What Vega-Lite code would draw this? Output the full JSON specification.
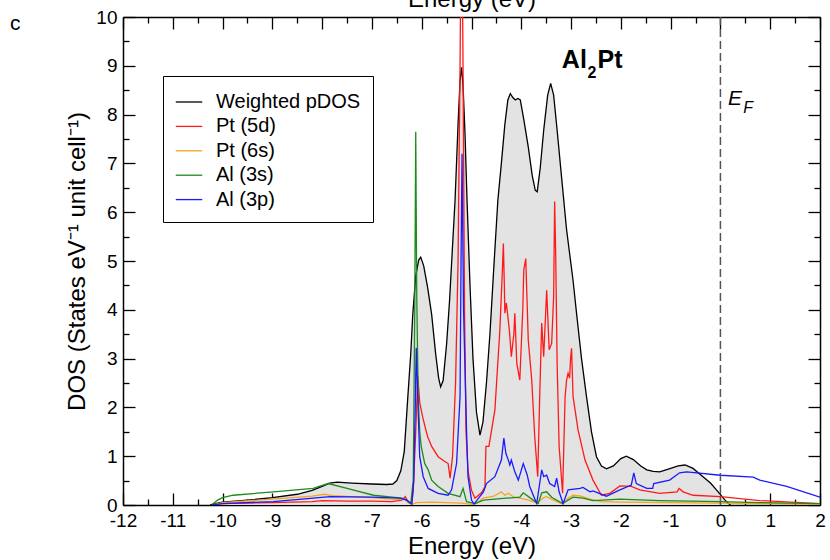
{
  "$schema": "https://vega.github.io/schema/vega-lite/v6.json",
  "width": 697,
  "height": 488,
  "autosize": {"type": "none"},
  "padding": {"left": 123, "top": 17, "right": 10, "bottom": 55},
  "background": "white",
  "config": {"font": "Liberation Sans", "view": {"stroke": null}},
  "datasets": {
    "dos": [
      {"s": "Weighted pDOS", "e": -10.25, "d": 0},
      {"s": "Weighted pDOS", "e": -10.1, "d": 0.04},
      {"s": "Weighted pDOS", "e": -10, "d": 0.06},
      {"s": "Weighted pDOS", "e": -9.5, "d": 0.1},
      {"s": "Weighted pDOS", "e": -9, "d": 0.15},
      {"s": "Weighted pDOS", "e": -8.5, "d": 0.22},
      {"s": "Weighted pDOS", "e": -8.2, "d": 0.3},
      {"s": "Weighted pDOS", "e": -8, "d": 0.38},
      {"s": "Weighted pDOS", "e": -7.85, "d": 0.45},
      {"s": "Weighted pDOS", "e": -7.7, "d": 0.47},
      {"s": "Weighted pDOS", "e": -7.4, "d": 0.45},
      {"s": "Weighted pDOS", "e": -7, "d": 0.43},
      {"s": "Weighted pDOS", "e": -6.7, "d": 0.42},
      {"s": "Weighted pDOS", "e": -6.58, "d": 0.43},
      {"s": "Weighted pDOS", "e": -6.5, "d": 0.5},
      {"s": "Weighted pDOS", "e": -6.42, "d": 0.7},
      {"s": "Weighted pDOS", "e": -6.35, "d": 1.1},
      {"s": "Weighted pDOS", "e": -6.28, "d": 2.2},
      {"s": "Weighted pDOS", "e": -6.22, "d": 3.1},
      {"s": "Weighted pDOS", "e": -6.18, "d": 3.9},
      {"s": "Weighted pDOS", "e": -6.12, "d": 4.7},
      {"s": "Weighted pDOS", "e": -6.06, "d": 5.02},
      {"s": "Weighted pDOS", "e": -6.02, "d": 5.08},
      {"s": "Weighted pDOS", "e": -5.96, "d": 4.9},
      {"s": "Weighted pDOS", "e": -5.88, "d": 4.45},
      {"s": "Weighted pDOS", "e": -5.8, "d": 3.9},
      {"s": "Weighted pDOS", "e": -5.72, "d": 3.1},
      {"s": "Weighted pDOS", "e": -5.66, "d": 2.6},
      {"s": "Weighted pDOS", "e": -5.62, "d": 2.42},
      {"s": "Weighted pDOS", "e": -5.57, "d": 2.55},
      {"s": "Weighted pDOS", "e": -5.5, "d": 3.3},
      {"s": "Weighted pDOS", "e": -5.44, "d": 4.2},
      {"s": "Weighted pDOS", "e": -5.4, "d": 4.95},
      {"s": "Weighted pDOS", "e": -5.33, "d": 6.25},
      {"s": "Weighted pDOS", "e": -5.27, "d": 7.8},
      {"s": "Weighted pDOS", "e": -5.23, "d": 8.7},
      {"s": "Weighted pDOS", "e": -5.2, "d": 8.97},
      {"s": "Weighted pDOS", "e": -5.17, "d": 8.6},
      {"s": "Weighted pDOS", "e": -5.13, "d": 7.6},
      {"s": "Weighted pDOS", "e": -5.09, "d": 6.25},
      {"s": "Weighted pDOS", "e": -5.03, "d": 4.5},
      {"s": "Weighted pDOS", "e": -4.97, "d": 3.0},
      {"s": "Weighted pDOS", "e": -4.9, "d": 1.9},
      {"s": "Weighted pDOS", "e": -4.83, "d": 1.43},
      {"s": "Weighted pDOS", "e": -4.77, "d": 1.7},
      {"s": "Weighted pDOS", "e": -4.7, "d": 2.5},
      {"s": "Weighted pDOS", "e": -4.63, "d": 3.5},
      {"s": "Weighted pDOS", "e": -4.55, "d": 4.9},
      {"s": "Weighted pDOS", "e": -4.47, "d": 6.25},
      {"s": "Weighted pDOS", "e": -4.4, "d": 7.0},
      {"s": "Weighted pDOS", "e": -4.33, "d": 7.8},
      {"s": "Weighted pDOS", "e": -4.27, "d": 8.3},
      {"s": "Weighted pDOS", "e": -4.22, "d": 8.43},
      {"s": "Weighted pDOS", "e": -4.17, "d": 8.35},
      {"s": "Weighted pDOS", "e": -4.12, "d": 8.3},
      {"s": "Weighted pDOS", "e": -4.07, "d": 8.33},
      {"s": "Weighted pDOS", "e": -4.02, "d": 8.3},
      {"s": "Weighted pDOS", "e": -3.95, "d": 7.9},
      {"s": "Weighted pDOS", "e": -3.86, "d": 7.34},
      {"s": "Weighted pDOS", "e": -3.78, "d": 6.75},
      {"s": "Weighted pDOS", "e": -3.72, "d": 6.45},
      {"s": "Weighted pDOS", "e": -3.68, "d": 6.42},
      {"s": "Weighted pDOS", "e": -3.62, "d": 6.9},
      {"s": "Weighted pDOS", "e": -3.55, "d": 7.68},
      {"s": "Weighted pDOS", "e": -3.47, "d": 8.4},
      {"s": "Weighted pDOS", "e": -3.41, "d": 8.64},
      {"s": "Weighted pDOS", "e": -3.35, "d": 8.4},
      {"s": "Weighted pDOS", "e": -3.28, "d": 7.68},
      {"s": "Weighted pDOS", "e": -3.18, "d": 6.6},
      {"s": "Weighted pDOS", "e": -3.09, "d": 5.64},
      {"s": "Weighted pDOS", "e": -2.96, "d": 4.6},
      {"s": "Weighted pDOS", "e": -2.89, "d": 3.93},
      {"s": "Weighted pDOS", "e": -2.79, "d": 3.0},
      {"s": "Weighted pDOS", "e": -2.69, "d": 2.22},
      {"s": "Weighted pDOS", "e": -2.59, "d": 1.5},
      {"s": "Weighted pDOS", "e": -2.49, "d": 0.99},
      {"s": "Weighted pDOS", "e": -2.39, "d": 0.8},
      {"s": "Weighted pDOS", "e": -2.29, "d": 0.74},
      {"s": "Weighted pDOS", "e": -2.15, "d": 0.8},
      {"s": "Weighted pDOS", "e": -2.0, "d": 0.95},
      {"s": "Weighted pDOS", "e": -1.89, "d": 1.0},
      {"s": "Weighted pDOS", "e": -1.75, "d": 0.93},
      {"s": "Weighted pDOS", "e": -1.6, "d": 0.8},
      {"s": "Weighted pDOS", "e": -1.48, "d": 0.72},
      {"s": "Weighted pDOS", "e": -1.35, "d": 0.69},
      {"s": "Weighted pDOS", "e": -1.22, "d": 0.68},
      {"s": "Weighted pDOS", "e": -1.0, "d": 0.75},
      {"s": "Weighted pDOS", "e": -0.85, "d": 0.8},
      {"s": "Weighted pDOS", "e": -0.71, "d": 0.82},
      {"s": "Weighted pDOS", "e": -0.55, "d": 0.75},
      {"s": "Weighted pDOS", "e": -0.35, "d": 0.58},
      {"s": "Weighted pDOS", "e": -0.2, "d": 0.45},
      {"s": "Weighted pDOS", "e": -0.08, "d": 0.31},
      {"s": "Weighted pDOS", "e": 0.05, "d": 0.15},
      {"s": "Weighted pDOS", "e": 0.12, "d": 0.07},
      {"s": "Weighted pDOS", "e": 0.2, "d": 0},

      {"s": "Pt (5d)", "e": -10.2, "d": 0},
      {"s": "Pt (5d)", "e": -10, "d": 0.03},
      {"s": "Pt (5d)", "e": -9, "d": 0.05},
      {"s": "Pt (5d)", "e": -8.2, "d": 0.07},
      {"s": "Pt (5d)", "e": -8, "d": 0.09},
      {"s": "Pt (5d)", "e": -7.5, "d": 0.08},
      {"s": "Pt (5d)", "e": -7, "d": 0.08},
      {"s": "Pt (5d)", "e": -6.6, "d": 0.07},
      {"s": "Pt (5d)", "e": -6.4, "d": 0.1},
      {"s": "Pt (5d)", "e": -6.33, "d": 0.17},
      {"s": "Pt (5d)", "e": -6.27, "d": 0.05},
      {"s": "Pt (5d)", "e": -6.2, "d": 0.02},
      {"s": "Pt (5d)", "e": -6.17, "d": 0.3},
      {"s": "Pt (5d)", "e": -6.12, "d": 1.5},
      {"s": "Pt (5d)", "e": -6.08, "d": 2.65},
      {"s": "Pt (5d)", "e": -6.04, "d": 2.1},
      {"s": "Pt (5d)", "e": -5.98, "d": 1.8},
      {"s": "Pt (5d)", "e": -5.92, "d": 1.55},
      {"s": "Pt (5d)", "e": -5.88, "d": 1.4},
      {"s": "Pt (5d)", "e": -5.8, "d": 1.2},
      {"s": "Pt (5d)", "e": -5.67, "d": 0.99},
      {"s": "Pt (5d)", "e": -5.55, "d": 0.9},
      {"s": "Pt (5d)", "e": -5.47, "d": 0.85},
      {"s": "Pt (5d)", "e": -5.43, "d": 0.55},
      {"s": "Pt (5d)", "e": -5.38, "d": 1.0},
      {"s": "Pt (5d)", "e": -5.32, "d": 2.5},
      {"s": "Pt (5d)", "e": -5.27, "d": 5},
      {"s": "Pt (5d)", "e": -5.23, "d": 9},
      {"s": "Pt (5d)", "e": -5.2, "d": 13},
      {"s": "Pt (5d)", "e": -5.17, "d": 9},
      {"s": "Pt (5d)", "e": -5.14, "d": 4},
      {"s": "Pt (5d)", "e": -5.11, "d": 1.5},
      {"s": "Pt (5d)", "e": -5.07, "d": 0.7},
      {"s": "Pt (5d)", "e": -5.0, "d": 0.3},
      {"s": "Pt (5d)", "e": -4.93, "d": 0.14},
      {"s": "Pt (5d)", "e": -4.8, "d": 0.25},
      {"s": "Pt (5d)", "e": -4.73, "d": 0.37},
      {"s": "Pt (5d)", "e": -4.71, "d": 1.2},
      {"s": "Pt (5d)", "e": -4.65, "d": 1.2},
      {"s": "Pt (5d)", "e": -4.53, "d": 1.95},
      {"s": "Pt (5d)", "e": -4.43, "d": 3.59},
      {"s": "Pt (5d)", "e": -4.38, "d": 4.8},
      {"s": "Pt (5d)", "e": -4.36, "d": 5.36},
      {"s": "Pt (5d)", "e": -4.34, "d": 4.5},
      {"s": "Pt (5d)", "e": -4.33, "d": 3.93},
      {"s": "Pt (5d)", "e": -4.3, "d": 4.14},
      {"s": "Pt (5d)", "e": -4.24, "d": 3.59},
      {"s": "Pt (5d)", "e": -4.2, "d": 3.04},
      {"s": "Pt (5d)", "e": -4.15, "d": 3.5},
      {"s": "Pt (5d)", "e": -4.13, "d": 3.93},
      {"s": "Pt (5d)", "e": -4.09, "d": 2.9},
      {"s": "Pt (5d)", "e": -4.03, "d": 2.56},
      {"s": "Pt (5d)", "e": -3.97, "d": 4.0},
      {"s": "Pt (5d)", "e": -3.95, "d": 4.82},
      {"s": "Pt (5d)", "e": -3.91, "d": 5.05},
      {"s": "Pt (5d)", "e": -3.86, "d": 3.38},
      {"s": "Pt (5d)", "e": -3.79, "d": 2.56},
      {"s": "Pt (5d)", "e": -3.73, "d": 1.4},
      {"s": "Pt (5d)", "e": -3.67, "d": 0.58},
      {"s": "Pt (5d)", "e": -3.63, "d": 2.22},
      {"s": "Pt (5d)", "e": -3.59, "d": 3.73},
      {"s": "Pt (5d)", "e": -3.55, "d": 3.04},
      {"s": "Pt (5d)", "e": -3.49, "d": 4.4},
      {"s": "Pt (5d)", "e": -3.44, "d": 3.18},
      {"s": "Pt (5d)", "e": -3.39, "d": 3.31},
      {"s": "Pt (5d)", "e": -3.35, "d": 4.27},
      {"s": "Pt (5d)", "e": -3.33, "d": 6.22},
      {"s": "Pt (5d)", "e": -3.31, "d": 5.2},
      {"s": "Pt (5d)", "e": -3.28, "d": 2.9},
      {"s": "Pt (5d)", "e": -3.24, "d": 1.2},
      {"s": "Pt (5d)", "e": -3.17, "d": 0.24},
      {"s": "Pt (5d)", "e": -3.12, "d": 2.22},
      {"s": "Pt (5d)", "e": -3.09, "d": 2.56},
      {"s": "Pt (5d)", "e": -3.06, "d": 2.7},
      {"s": "Pt (5d)", "e": -3.03, "d": 2.6},
      {"s": "Pt (5d)", "e": -3.01, "d": 3.0},
      {"s": "Pt (5d)", "e": -2.99, "d": 3.21},
      {"s": "Pt (5d)", "e": -2.96, "d": 2.22},
      {"s": "Pt (5d)", "e": -2.86, "d": 1.54},
      {"s": "Pt (5d)", "e": -2.72, "d": 0.92},
      {"s": "Pt (5d)", "e": -2.56, "d": 0.51},
      {"s": "Pt (5d)", "e": -2.39, "d": 0.2},
      {"s": "Pt (5d)", "e": -2.22, "d": 0.24},
      {"s": "Pt (5d)", "e": -2.02, "d": 0.39},
      {"s": "Pt (5d)", "e": -1.79, "d": 0.38},
      {"s": "Pt (5d)", "e": -1.62, "d": 0.31},
      {"s": "Pt (5d)", "e": -1.22, "d": 0.24},
      {"s": "Pt (5d)", "e": -0.87, "d": 0.27},
      {"s": "Pt (5d)", "e": -0.83, "d": 0.34},
      {"s": "Pt (5d)", "e": -0.75, "d": 0.27},
      {"s": "Pt (5d)", "e": -0.55, "d": 0.2},
      {"s": "Pt (5d)", "e": 0, "d": 0.17},
      {"s": "Pt (5d)", "e": 0.79, "d": 0.09},
      {"s": "Pt (5d)", "e": 2, "d": 0.03},

      {"s": "Pt (6s)", "e": -10.2, "d": 0},
      {"s": "Pt (6s)", "e": -10, "d": 0.05},
      {"s": "Pt (6s)", "e": -9, "d": 0.12},
      {"s": "Pt (6s)", "e": -8.2, "d": 0.18},
      {"s": "Pt (6s)", "e": -7.95, "d": 0.22},
      {"s": "Pt (6s)", "e": -7.8, "d": 0.19},
      {"s": "Pt (6s)", "e": -7, "d": 0.15},
      {"s": "Pt (6s)", "e": -6.5, "d": 0.11},
      {"s": "Pt (6s)", "e": -6.35, "d": 0.13},
      {"s": "Pt (6s)", "e": -6.28, "d": 0.05},
      {"s": "Pt (6s)", "e": -6.2, "d": 0.01},
      {"s": "Pt (6s)", "e": -6.1, "d": 0.05},
      {"s": "Pt (6s)", "e": -5.8, "d": 0.06},
      {"s": "Pt (6s)", "e": -5.5, "d": 0.05},
      {"s": "Pt (6s)", "e": -5.2, "d": 0.04},
      {"s": "Pt (6s)", "e": -5.0, "d": 0.01},
      {"s": "Pt (6s)", "e": -4.9, "d": 0.03},
      {"s": "Pt (6s)", "e": -4.77, "d": 0.14},
      {"s": "Pt (6s)", "e": -4.55, "d": 0.18},
      {"s": "Pt (6s)", "e": -4.4, "d": 0.27},
      {"s": "Pt (6s)", "e": -4.33, "d": 0.2},
      {"s": "Pt (6s)", "e": -4.26, "d": 0.24},
      {"s": "Pt (6s)", "e": -4.15, "d": 0.16},
      {"s": "Pt (6s)", "e": -4.03, "d": 0.14},
      {"s": "Pt (6s)", "e": -3.85, "d": 0.1},
      {"s": "Pt (6s)", "e": -3.69, "d": 0.04},
      {"s": "Pt (6s)", "e": -3.55, "d": 0.15},
      {"s": "Pt (6s)", "e": -3.49, "d": 0.17},
      {"s": "Pt (6s)", "e": -3.35, "d": 0.1},
      {"s": "Pt (6s)", "e": -3.17, "d": 0.02},
      {"s": "Pt (6s)", "e": -3.05, "d": 0.15},
      {"s": "Pt (6s)", "e": -2.96, "d": 0.2},
      {"s": "Pt (6s)", "e": -2.8, "d": 0.18},
      {"s": "Pt (6s)", "e": -2.62, "d": 0.12},
      {"s": "Pt (6s)", "e": -2.4, "d": 0.07},
      {"s": "Pt (6s)", "e": -2, "d": 0.06},
      {"s": "Pt (6s)", "e": -1, "d": 0.05},
      {"s": "Pt (6s)", "e": 0, "d": 0.04},
      {"s": "Pt (6s)", "e": 1, "d": 0.03},
      {"s": "Pt (6s)", "e": 2, "d": 0.02},

      {"s": "Al (3s)", "e": -10.22, "d": 0},
      {"s": "Al (3s)", "e": -10.1, "d": 0.1},
      {"s": "Al (3s)", "e": -10, "d": 0.15},
      {"s": "Al (3s)", "e": -9.79, "d": 0.2},
      {"s": "Al (3s)", "e": -8.98, "d": 0.27},
      {"s": "Al (3s)", "e": -8.18, "d": 0.34},
      {"s": "Al (3s)", "e": -7.88, "d": 0.44},
      {"s": "Al (3s)", "e": -7.5, "d": 0.34},
      {"s": "Al (3s)", "e": -6.97, "d": 0.2},
      {"s": "Al (3s)", "e": -6.4, "d": 0.14},
      {"s": "Al (3s)", "e": -6.3, "d": 0.1},
      {"s": "Al (3s)", "e": -6.22, "d": 0.03},
      {"s": "Al (3s)", "e": -6.17, "d": 0.5},
      {"s": "Al (3s)", "e": -6.14, "d": 4},
      {"s": "Al (3s)", "e": -6.12, "d": 7.65},
      {"s": "Al (3s)", "e": -6.1, "d": 4.3},
      {"s": "Al (3s)", "e": -6.07, "d": 2.2},
      {"s": "Al (3s)", "e": -6.04, "d": 1.5},
      {"s": "Al (3s)", "e": -6.01, "d": 1.2},
      {"s": "Al (3s)", "e": -5.94, "d": 0.85},
      {"s": "Al (3s)", "e": -5.87, "d": 0.72},
      {"s": "Al (3s)", "e": -5.8, "d": 0.51},
      {"s": "Al (3s)", "e": -5.67, "d": 0.38},
      {"s": "Al (3s)", "e": -5.47, "d": 0.24},
      {"s": "Al (3s)", "e": -5.23, "d": 0.17},
      {"s": "Al (3s)", "e": -5.17, "d": 0.34},
      {"s": "Al (3s)", "e": -5.1, "d": 0.07},
      {"s": "Al (3s)", "e": -4.93, "d": 0.03},
      {"s": "Al (3s)", "e": -4.76, "d": 0.1},
      {"s": "Al (3s)", "e": -4.3, "d": 0.14},
      {"s": "Al (3s)", "e": -4.03, "d": 0.16},
      {"s": "Al (3s)", "e": -3.96, "d": 0.25},
      {"s": "Al (3s)", "e": -3.76, "d": 0.1},
      {"s": "Al (3s)", "e": -3.66, "d": 0.03},
      {"s": "Al (3s)", "e": -3.59, "d": 0.25},
      {"s": "Al (3s)", "e": -3.49, "d": 0.27},
      {"s": "Al (3s)", "e": -3.39, "d": 0.16},
      {"s": "Al (3s)", "e": -3.17, "d": 0.03},
      {"s": "Al (3s)", "e": -2.96, "d": 0.16},
      {"s": "Al (3s)", "e": -2.76, "d": 0.14},
      {"s": "Al (3s)", "e": -2.56, "d": 0.09},
      {"s": "Al (3s)", "e": -2.02, "d": 0.12},
      {"s": "Al (3s)", "e": -1.22, "d": 0.09},
      {"s": "Al (3s)", "e": 0, "d": 0.07},
      {"s": "Al (3s)", "e": 0.79, "d": 0.05},
      {"s": "Al (3s)", "e": 2, "d": 0.03},

      {"s": "Al (3p)", "e": -10.22, "d": 0},
      {"s": "Al (3p)", "e": -10, "d": 0.03},
      {"s": "Al (3p)", "e": -8.98, "d": 0.07},
      {"s": "Al (3p)", "e": -8.18, "d": 0.14},
      {"s": "Al (3p)", "e": -7.84, "d": 0.17},
      {"s": "Al (3p)", "e": -7, "d": 0.16},
      {"s": "Al (3p)", "e": -6.44, "d": 0.14},
      {"s": "Al (3p)", "e": -6.3, "d": 0.1},
      {"s": "Al (3p)", "e": -6.2, "d": 0.02},
      {"s": "Al (3p)", "e": -6.16, "d": 0.5},
      {"s": "Al (3p)", "e": -6.13, "d": 2.0},
      {"s": "Al (3p)", "e": -6.11, "d": 3.22},
      {"s": "Al (3p)", "e": -6.07, "d": 1.88},
      {"s": "Al (3p)", "e": -6.04, "d": 0.99},
      {"s": "Al (3p)", "e": -5.97, "d": 0.58},
      {"s": "Al (3p)", "e": -5.87, "d": 0.34},
      {"s": "Al (3p)", "e": -5.67, "d": 0.24},
      {"s": "Al (3p)", "e": -5.47, "d": 0.2},
      {"s": "Al (3p)", "e": -5.4, "d": 0.31},
      {"s": "Al (3p)", "e": -5.3, "d": 0.85},
      {"s": "Al (3p)", "e": -5.23, "d": 2.22},
      {"s": "Al (3p)", "e": -5.21, "d": 5},
      {"s": "Al (3p)", "e": -5.19, "d": 7.2},
      {"s": "Al (3p)", "e": -5.16, "d": 4},
      {"s": "Al (3p)", "e": -5.1, "d": 1.54},
      {"s": "Al (3p)", "e": -5.07, "d": 0.58},
      {"s": "Al (3p)", "e": -5.0, "d": 0.1},
      {"s": "Al (3p)", "e": -4.95, "d": 0.02},
      {"s": "Al (3p)", "e": -4.76, "d": 0.27},
      {"s": "Al (3p)", "e": -4.7, "d": 0.44},
      {"s": "Al (3p)", "e": -4.53, "d": 0.58},
      {"s": "Al (3p)", "e": -4.4, "d": 0.92},
      {"s": "Al (3p)", "e": -4.35, "d": 1.37},
      {"s": "Al (3p)", "e": -4.31, "d": 1.06},
      {"s": "Al (3p)", "e": -4.26, "d": 0.92},
      {"s": "Al (3p)", "e": -4.23, "d": 0.82},
      {"s": "Al (3p)", "e": -4.2, "d": 0.92},
      {"s": "Al (3p)", "e": -4.13, "d": 0.68},
      {"s": "Al (3p)", "e": -4.06, "d": 0.51},
      {"s": "Al (3p)", "e": -3.96, "d": 0.85},
      {"s": "Al (3p)", "e": -3.88, "d": 0.61},
      {"s": "Al (3p)", "e": -3.83, "d": 0.38},
      {"s": "Al (3p)", "e": -3.76, "d": 0.2},
      {"s": "Al (3p)", "e": -3.69, "d": 0.03},
      {"s": "Al (3p)", "e": -3.59, "d": 0.72},
      {"s": "Al (3p)", "e": -3.55, "d": 0.58},
      {"s": "Al (3p)", "e": -3.49, "d": 0.61},
      {"s": "Al (3p)", "e": -3.43, "d": 0.44},
      {"s": "Al (3p)", "e": -3.33, "d": 0.38},
      {"s": "Al (3p)", "e": -3.29, "d": 0.55},
      {"s": "Al (3p)", "e": -3.24, "d": 0.27},
      {"s": "Al (3p)", "e": -3.16, "d": 0.03},
      {"s": "Al (3p)", "e": -3.06, "d": 0.31},
      {"s": "Al (3p)", "e": -2.82, "d": 0.34},
      {"s": "Al (3p)", "e": -2.76, "d": 0.36},
      {"s": "Al (3p)", "e": -2.62, "d": 0.27},
      {"s": "Al (3p)", "e": -2.56, "d": 0.29},
      {"s": "Al (3p)", "e": -2.29, "d": 0.18},
      {"s": "Al (3p)", "e": -2.02, "d": 0.31},
      {"s": "Al (3p)", "e": -1.79, "d": 0.41},
      {"s": "Al (3p)", "e": -1.74, "d": 0.66},
      {"s": "Al (3p)", "e": -1.69, "d": 0.44},
      {"s": "Al (3p)", "e": -1.48, "d": 0.34},
      {"s": "Al (3p)", "e": -1.36, "d": 0.34},
      {"s": "Al (3p)", "e": -1.34, "d": 0.44},
      {"s": "Al (3p)", "e": -1.02, "d": 0.51},
      {"s": "Al (3p)", "e": -0.82, "d": 0.66},
      {"s": "Al (3p)", "e": -0.68, "d": 0.68},
      {"s": "Al (3p)", "e": 0, "d": 0.61},
      {"s": "Al (3p)", "e": 0.66, "d": 0.57},
      {"s": "Al (3p)", "e": 0.79, "d": 0.51},
      {"s": "Al (3p)", "e": 1.33, "d": 0.38},
      {"s": "Al (3p)", "e": 2, "d": 0.16}
    ]
  },
  "layer": [
    {
      "data": {"name": "dos"},
      "transform": [{"filter": "datum.s === 'Weighted pDOS'"}],
      "mark": {"type": "area", "color": "#e3e3e3", "clip": true},
      "encoding": {
        "x": {
          "field": "e", "type": "quantitative",
          "scale": {"domain": [-12, 2], "nice": false, "zero": false},
          "axis": {
            "orient": "bottom",
            "values": [-12, -11.5, -11, -10.5, -10, -9.5, -9, -8.5, -8, -7.5, -7, -6.5, -6, -5.5, -5, -4.5, -4, -3.5, -3, -2.5, -2, -1.5, -1, -0.5, 0, 0.5, 1, 1.5, 2],
            "tickSize": {"condition": {"test": "datum.value % 1 === 0", "value": -12}, "value": -6},
            "tickColor": "black", "tickWidth": 1.3,
            "labelExpr": "datum.value % 1 === 0 ? '' + datum.value : ''",
            "labelFontSize": 19, "labelColor": "black", "labelPadding": 18,
            "labelOverlap": false, "labelFlush": false,
            "domainColor": "black", "domainWidth": 1.5,
            "grid": false,
            "title": "Energy  (eV)", "titleFontSize": 24, "titleFontWeight": "normal", "titleColor": "black", "titlePadding": -2
          }
        },
        "y": {
          "field": "d", "type": "quantitative",
          "scale": {"domain": [0, 10], "nice": false},
          "axis": {
            "orient": "left",
            "values": [0, 0.5, 1, 1.5, 2, 2.5, 3, 3.5, 4, 4.5, 5, 5.5, 6, 6.5, 7, 7.5, 8, 8.5, 9, 9.5, 10],
            "tickSize": {"condition": {"test": "datum.value % 1 === 0", "value": -12}, "value": -6},
            "tickColor": "black", "tickWidth": 1.3,
            "labelExpr": "datum.value % 1 === 0 ? '' + datum.value : ''",
            "labelFontSize": 19, "labelColor": "black", "labelPadding": 18,
            "labelOverlap": false, "labelFlush": false,
            "domainColor": "black", "domainWidth": 1.5,
            "grid": false,
            "title": "DOS (States eV⁻¹ unit cell⁻¹)", "titleFontSize": 24, "titleFontWeight": "normal", "titleColor": "black", "titlePadding": 6
          }
        }
      }
    },
    {
      "data": {"name": "dos"},
      "mark": {"type": "line", "strokeWidth": 1.3, "clip": true},
      "encoding": {
        "x": {"field": "e", "type": "quantitative", "scale": {"domain": [-12, 2], "nice": false, "zero": false}, "axis": null},
        "y": {"field": "d", "type": "quantitative", "scale": {"domain": [0, 10], "nice": false}, "axis": null},
        "color": {
          "field": "s", "type": "nominal",
          "scale": {"domain": ["Weighted pDOS", "Pt (5d)", "Pt (6s)", "Al (3s)", "Al (3p)"], "range": ["#000000", "#ff1a1a", "#f5a623", "#1a8c1a", "#1a1aff"]},
          "legend": {
            "title": null, "orient": "none", "legendX": 40, "legendY": 59,
            "symbolType": "stroke", "symbolSize": 700, "symbolStrokeWidth": 1.3,
            "labelFontSize": 20, "labelColor": "black", "labelOffset": 13,
            "strokeColor": "black", "fillColor": "white", "padding": 12, "rowPadding": 0.4
          }
        }
      }
    },
    {
      "data": {"values": [{"e": 0, "lo": 0, "hi": 10}]},
      "mark": {"type": "rule", "color": "#555555", "strokeDash": [8, 4], "strokeWidth": 1.5},
      "encoding": {
        "x": {
          "field": "e", "type": "quantitative",
          "scale": {"domain": [-12, 2], "nice": false, "zero": false},
          "axis": {
            "orient": "top",
            "values": [-12, -11.5, -11, -10.5, -10, -9.5, -9, -8.5, -8, -7.5, -7, -6.5, -6, -5.5, -5, -4.5, -4, -3.5, -3, -2.5, -2, -1.5, -1, -0.5, 0, 0.5, 1, 1.5, 2],
            "tickSize": {"condition": {"test": "datum.value % 1 === 0", "value": -12}, "value": -6},
            "tickColor": "black", "tickWidth": 1.3,
            "labels": false,
            "domainColor": "black", "domainWidth": 1.5, "grid": false,
            "title": "Energy  (eV)", "titleFontSize": 24, "titleFontWeight": "normal", "titleColor": "black", "titlePadding": 5
          }
        },
        "y": {
          "field": "lo", "type": "quantitative",
          "scale": {"domain": [0, 10], "nice": false},
          "axis": {
            "orient": "right",
            "values": [0, 0.5, 1, 1.5, 2, 2.5, 3, 3.5, 4, 4.5, 5, 5.5, 6, 6.5, 7, 7.5, 8, 8.5, 9, 9.5, 10],
            "tickSize": {"condition": {"test": "datum.value % 1 === 0", "value": -12}, "value": -6},
            "tickColor": "black", "tickWidth": 1.3,
            "labels": false,
            "domainColor": "black", "domainWidth": 1.5, "grid": false,
            "title": null
          }
        },
        "y2": {"field": "hi"}
      }
    },
    {
      "data": {"values": [{"t": "c"}]},
      "mark": {"type": "text", "align": "left", "baseline": "middle", "fontSize": 21, "color": "black"},
      "encoding": {
        "x": {"datum": -14.27, "type": "quantitative", "scale": {"domain": [-12, 2], "nice": false, "zero": false}, "axis": null},
        "y": {"datum": 9.85, "type": "quantitative", "scale": {"domain": [0, 10], "nice": false}, "axis": null},
        "text": {"field": "t"}
      }
    },
    {
      "data": {"values": [{"t": "Al"}]},
      "mark": {"type": "text", "align": "right", "baseline": "alphabetic", "fontSize": 25, "fontWeight": "bold", "color": "black"},
      "encoding": {
        "x": {"datum": -2.683, "type": "quantitative", "scale": {"domain": [-12, 2], "nice": false, "zero": false}, "axis": null},
        "y": {"datum": 8.955, "type": "quantitative", "scale": {"domain": [0, 10], "nice": false}, "axis": null},
        "text": {"field": "t"}
      }
    },
    {
      "data": {"values": [{"t": "2"}]},
      "mark": {"type": "text", "align": "left", "baseline": "alphabetic", "fontSize": 16, "fontWeight": "bold", "color": "black"},
      "encoding": {
        "x": {"datum": -2.67, "type": "quantitative", "scale": {"domain": [-12, 2], "nice": false, "zero": false}, "axis": null},
        "y": {"datum": 8.76, "type": "quantitative", "scale": {"domain": [0, 10], "nice": false}, "axis": null},
        "text": {"field": "t"}
      }
    },
    {
      "data": {"values": [{"t": "Pt"}]},
      "mark": {"type": "text", "align": "left", "baseline": "alphabetic", "fontSize": 25, "fontWeight": "bold", "color": "black"},
      "encoding": {
        "x": {"datum": -2.47, "type": "quantitative", "scale": {"domain": [-12, 2], "nice": false, "zero": false}, "axis": null},
        "y": {"datum": 8.955, "type": "quantitative", "scale": {"domain": [0, 10], "nice": false}, "axis": null},
        "text": {"field": "t"}
      }
    },
    {
      "data": {"values": [{"t": "E"}]},
      "mark": {"type": "text", "align": "left", "baseline": "alphabetic", "fontSize": 21, "fontStyle": "italic", "color": "black"},
      "encoding": {
        "x": {"datum": 0.15, "type": "quantitative", "scale": {"domain": [-12, 2], "nice": false, "zero": false}, "axis": null},
        "y": {"datum": 8.2, "type": "quantitative", "scale": {"domain": [0, 10], "nice": false}, "axis": null},
        "text": {"field": "t"}
      }
    },
    {
      "data": {"values": [{"t": "F"}]},
      "mark": {"type": "text", "align": "left", "baseline": "alphabetic", "fontSize": 16, "fontStyle": "italic", "color": "black"},
      "encoding": {
        "x": {"datum": 0.46, "type": "quantitative", "scale": {"domain": [-12, 2], "nice": false, "zero": false}, "axis": null},
        "y": {"datum": 8.03, "type": "quantitative", "scale": {"domain": [0, 10], "nice": false}, "axis": null},
        "text": {"field": "t"}
      }
    }
  ],
  "resolve": {"axis": {"x": "independent", "y": "independent"}}
}
